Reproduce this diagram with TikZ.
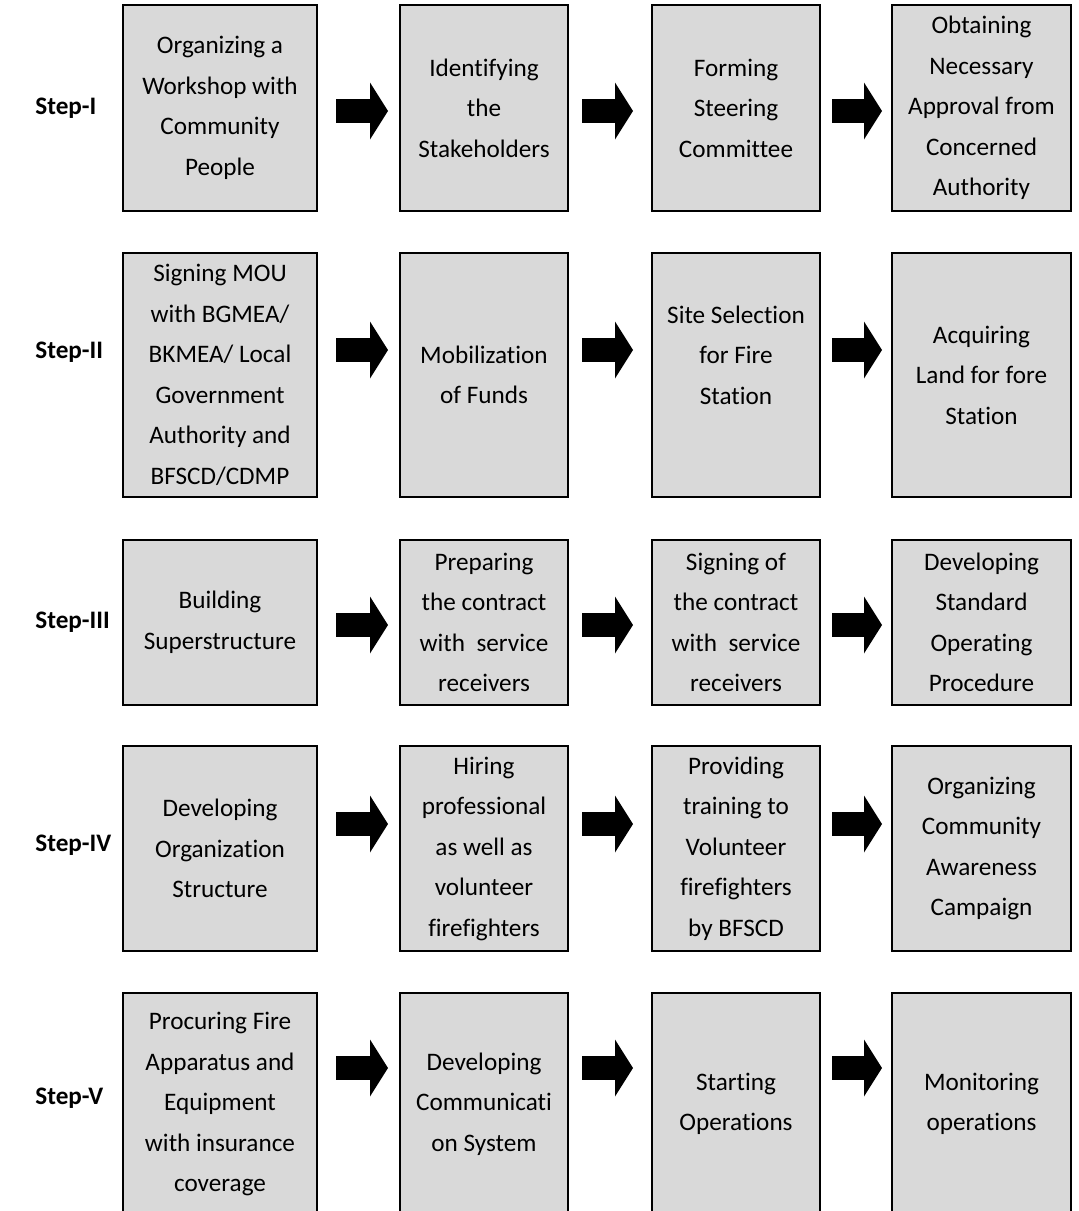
\documentclass[tikz,border=0pt]{standalone}
\usepackage{fontspec}
\setmainfont{Carlito}[Ligatures=NoCommon]
\usepackage{xcolor}
\usepackage{tikz}
\usetikzlibrary{arrows.meta}
\definecolor{vak}{RGB}{217,217,217}

\begin{document}
\begin{tikzpicture}[x=0.5pt, y=-0.5pt,
    every node/.style={font=\fontsize{12.6}{20.25}\selectfont},
    box/.style={draw, line width=1pt, fill=vak, align=center, inner sep=1pt},
    w1/.style={minimum width=97pt}, w2/.style={minimum width=84pt},
    w3/.style={minimum width=84pt}, w4/.style={minimum width=89.5pt},
    h1/.style={minimum height=103pt}, h2/.style={minimum height=122pt},
    h3/.style={minimum height=82.5pt}, h4/.style={minimum height=102.5pt},
    h5/.style={minimum height=111pt},
    pijl/.style={line width=12pt, -{Triangle[width=28.5pt, length=9pt, line width=0pt]}}]
    \clip (0,0) rectangle (1078,1211);
    % stapnamen
    \foreach \y/\lab in {108/I, 352/II, 622/III, 845/IV, 1098/V}
    \node[anchor=west, inner sep=0pt, font=\fontsize{12.6}{20.25}\selectfont\bfseries] (s\lab) at (35,\y) {Step-\lab};
    % rij 1
    \node[box, w1, h1] (b11) at (220,108) {Organizing a\\Workshop with\\Community\\People};
    \node[box, w2, h1] (b12) at (484,108) {Identifying\\the\\Stakeholders};
    \node[box, w3, h1] (b13) at (736,108) {Forming\\Steering\\Committee};
    \node[box, w4, h1] (b14) at (981.5,108) {Obtaining\\Necessary\\Approval from\\Concerned\\Authority};
    % rij 2
    \node[box, w1, h2] (b21) at (220,375) {Signing MOU\\with BGMEA/\\BKMEA/ Local\\Government\\Authority and\\BFSCD/CDMP};
    \node[box, w2, h2] (b22) at (484,375) {Mobilization\\of Funds};
    \node[box, w3, h2] (b23) at (736,375) {Site Selection\\for Fire\\Station\\ \mbox{}};
    \node[box, w4, h2] (b24) at (981.5,375) {Acquiring\\Land for fore\\Station};
    % rij 3
    \node[box, w1, h3] (b31) at (220,622.5) {Building\\Superstructure};
    \node[box, w2, h3] (b32) at (484,622.5) {Preparing\\the contract\\with\ \ service\\receivers};
    \node[box, w3, h3] (b33) at (736,622.5) {Signing of\\the contract\\with\ \ service\\receivers};
    \node[box, w4, h3] (b34) at (981.5,622.5) {Developing\\Standard\\Operating\\Procedure};
    % rij 4
    \node[box, w1, h4] (b41) at (220,848.5) {Developing\\Organization\\Structure};
    \node[box, w2, h4] (b42) at (484,848.5) {Hiring\\professional\\as well as\\volunteer\\firefighters};
    \node[box, w3, h4] (b43) at (736,848.5) {Providing\\training to\\Volunteer\\firefighters\\by BFSCD};
    \node[box, w4, h4] (b44) at (981.5,848.5) {Organizing\\Community\\Awareness\\Campaign};
    % rij 5
    \node[box, w1, h5] (b51) at (220,1104) {Procuring Fire\\Apparatus and\\Equipment\\with insurance\\coverage};
    \node[box, w2, h5] (b52) at (484,1104) {Developing\\Communicati\\on System};
    \node[box, w3, h5] (b53) at (736,1104) {Starting\\Operations};
    \node[box, w4, h5] (b54) at (981.5,1104) {Monitoring\\operations};
    % pijlen
    \foreach \r/\y in {1/111, 2/350, 3/625, 4/824, 5/1068} {
        \coordinate (p\r) at (0,\y);
        \draw[pijl, shorten <=9pt, shorten >=5.5pt] (b\r1.east |- p\r) -- (b\r2.west |- p\r);
        \draw[pijl, shorten <=6.5pt, shorten >=9pt] (b\r2.east |- p\r) -- (b\r3.west |- p\r);
        \draw[pijl, shorten <=5.5pt, shorten >=4.5pt] (b\r3.east |- p\r) -- (b\r4.west |- p\r);
    }
\end{tikzpicture}
\end{document}
